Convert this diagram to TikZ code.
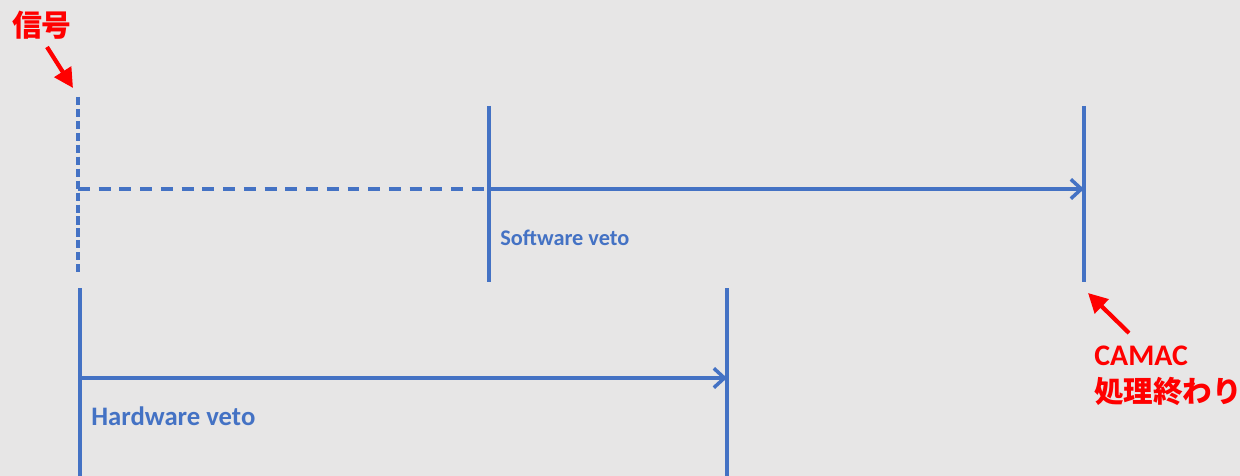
\documentclass[tikz,border=0pt]{standalone}
\usepackage{fontspec}
\setmainfont{Carlito}
\newfontfamily\cjk{Noto Sans CJK JP}
\usetikzlibrary{arrows.meta}
\definecolor{vetoblue}{HTML}{4472C4}
\definecolor{bgray}{HTML}{E7E6E6}
\tikzset{
  timeline/.style={vetoblue, line width=2pt},
  vdash/.style={timeline, dash pattern=on 4.6pt off 2.2pt},
  hdash/.style={timeline, dash pattern=on 6.8pt off 5pt},
  vetoarrow/.style={timeline, -{Straight Barb[length=6pt,width=11pt,line width=2pt]}},
  notearrow/.style={red, line width=2.4pt, -{Triangle[length=11pt,width=11pt]}},
  vetolabel/.style={vetoblue, anchor=west, inner sep=0pt},
  notelabel/.style={red, font=\bfseries\fontsize{17}{21}\selectfont, inner sep=0pt}
}
\begin{document}
\begin{tikzpicture}[x=0.02cm,y=-0.02cm]
                \fill[bgray] (0,0) rectangle (1240,476);
                \useasboundingbox (0,0) rectangle (1240,476);
                % signal
                \coordinate (sigtop) at (78,97);
                \coordinate (sigbot) at (78,275);
                \coordinate (sigmid) at (78,189);
                \draw[vdash] (sigtop) -- (sigbot);
                % software veto
                \coordinate (swtop) at (489,106);
                \coordinate (swbot) at (489,282);
                \coordinate (swmid) at (489,189);
                \coordinate (camtop) at (1084,106);
                \coordinate (cambot) at (1084,282);
                \coordinate (cammid) at (1084,189);
                \draw[timeline] (swtop) -- (swbot);
                \draw[timeline] (camtop) -- (cambot);
                \draw[hdash] (sigmid) -- (swmid);
                \draw[vetoarrow] (swmid) -- (cammid);
                \node[vetolabel, font=\bfseries\fontsize{12.7}{15}\selectfont] (sw) at (500,238) {Software veto};
                % hardware veto
                \coordinate (hwtop) at (80,288);
                \coordinate (hwbot) at (80,476);
                \coordinate (hwmid) at (80,378);
                \coordinate (hetop) at (727,288);
                \coordinate (hebot) at (727,476);
                \coordinate (hemid) at (727,378);
                \draw[timeline] (hwtop) -- (hwbot);
                \draw[timeline] (hetop) -- (hebot);
                \draw[vetoarrow] (hwmid) -- (hemid);
                \node[vetolabel, font=\bfseries\fontsize{15.2}{18}\selectfont] (hw) at (91,416) {Hardware veto};
                % notes
                \node[notelabel] (sig) at (42,25) {\cjk 信号};
                \coordinate (sigtail) at (47,47);
                \coordinate (sighead) at (73,88);
                \draw[notearrow] (sigtail) -- (sighead);
                \node[notelabel, anchor=west] (camac) at (1094,356) {CAMAC};
                \node[notelabel, anchor=west, font=\bfseries\fontsize{16.8}{20}\selectfont] (owari) at (1094,391) {\cjk 処理終わり};
                \coordinate (camtail) at (1129,333);
                \coordinate (camhead) at (1088,293);
                \draw[notearrow] (camtail) -- (camhead);
            \end{tikzpicture}
\end{document}
